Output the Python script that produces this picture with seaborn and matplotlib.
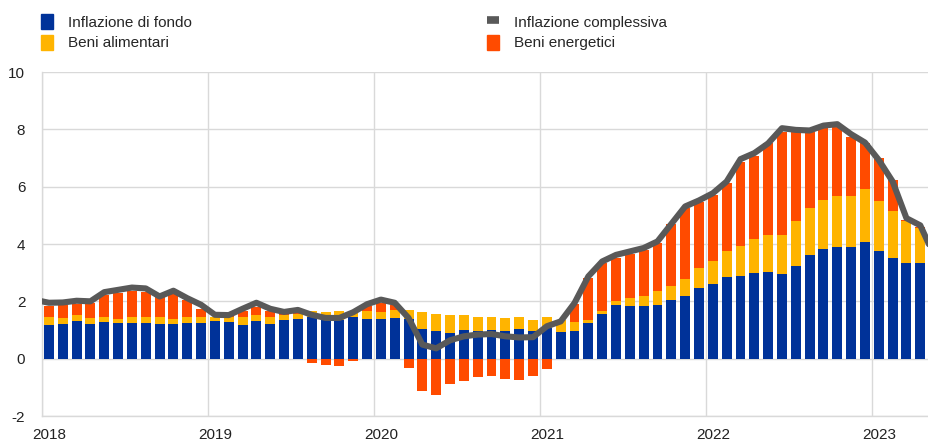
import numpy as np
import pandas as pd
import matplotlib
matplotlib.use('Agg')
import matplotlib.pyplot as plt
import seaborn as sns
from matplotlib.patches import Patch
from matplotlib.lines import Line2D

# monthly contributions, Jan 2018 - Apr 2023 (percentage points)
years = ['2018', '2019', '2020', '2021', '2022', '2023']

core = [1.18, 1.20, 1.30, 1.20, 1.27, 1.23, 1.25, 1.23, 1.22, 1.22, 1.25, 1.25,
        1.33, 1.28, 1.18, 1.33, 1.22, 1.36, 1.39, 1.44, 1.36, 1.36, 1.44, 1.40,
        1.39, 1.43, 1.39, 1.05, 0.96, 0.89, 1.01, 0.98, 1.01, 0.98, 1.03, 0.98,
        1.07, 0.92, 0.95, 1.24, 1.56, 1.86, 1.82, 1.82, 1.86, 2.06, 2.20, 2.48,
        2.62, 2.86, 2.89, 3.00, 3.03, 2.96, 3.25, 3.60, 3.83, 3.88, 3.90, 4.08,
        3.76, 3.52, 3.35, 3.35]

food = [0.29, 0.22, 0.21, 0.22, 0.17, 0.17, 0.19, 0.21, 0.22, 0.18, 0.19, 0.19,
        0.12, 0.16, 0.26, 0.20, 0.23, 0.17, 0.17, 0.21, 0.27, 0.29, 0.23, 0.25,
        0.23, 0.28, 0.32, 0.57, 0.60, 0.62, 0.50, 0.49, 0.43, 0.45, 0.41, 0.37,
        0.37, 0.44, 0.32, 0.12, 0.11, 0.16, 0.29, 0.35, 0.49, 0.46, 0.59, 0.70,
        0.77, 0.90, 1.05, 1.17, 1.29, 1.36, 1.56, 1.65, 1.71, 1.78, 1.78, 1.84,
        1.75, 1.64, 1.45, 1.20]

energy = [0.35, 0.44, 0.41, 0.52, 0.77, 0.89, 0.91, 0.88, 0.70, 0.85, 0.59, 0.29,
          0.02, 0.04, 0.21, 0.27, 0.23, 0.04, 0.05, -0.15, -0.23, -0.26, -0.08, 0.20,
          0.31, 0.16, -0.34, -1.14, -1.25, -0.88, -0.77, -0.64, -0.59, -0.70, -0.74, -0.59,
          -0.36, 0.0, 0.65, 1.45, 1.66, 1.49, 1.55, 1.63, 1.70, 2.18, 2.46, 2.30,
          2.32, 2.36, 2.93, 2.91, 3.19, 3.60, 3.09, 2.65, 2.50, 2.43, 2.07, 1.59,
          1.48, 1.08, 0.05, 0.05]

# headline, Dec 2017 - May 2023
headline = [2.05,
            1.95, 1.96, 2.02, 2.00, 2.32, 2.40, 2.48, 2.45, 2.17, 2.37, 2.11, 1.88,
            1.53, 1.52, 1.74, 1.95, 1.74, 1.63, 1.70, 1.53, 1.42, 1.42, 1.62, 1.90,
            2.06, 1.95, 1.42, 0.49, 0.36, 0.64, 0.78, 0.84, 0.86, 0.78, 0.74, 0.75,
            1.13, 1.30, 1.94, 2.87, 3.39, 3.62, 3.74, 3.86, 4.09, 4.70, 5.31, 5.52,
            5.77, 6.18, 6.96, 7.17, 7.51, 8.04, 7.98, 7.96, 8.13, 8.18, 7.83, 7.54,
            6.93, 6.18, 4.90, 4.65, 3.60]

labels = ['Inflazione di fondo', 'Beni alimentari', 'Inflazione complessiva', 'Beni energetici']

BLUE = '#003299'
YELLOW = '#FFB400'
ORANGE = '#FF4B00'
GREY = '#595959'
GRID = '#d9d9d9'

sns.set_style('whitegrid')
plt.rcParams['font.family'] = ['Liberation Sans', 'DejaVu Sans']
plt.rcParams['axes.unicode_minus'] = False

df = pd.DataFrame({'month': np.arange(len(core)), 'core': core,
                   'food': food, 'energy': energy})
df['energy_bottom'] = np.where(df['energy'] >= 0, df['core'] + df['food'], 0.0)
line_df = pd.DataFrame({'month': np.arange(-1, len(headline) - 1), 'headline': headline})

fig = plt.figure(figsize=(9.29, 4.41), dpi=100)
ax = fig.add_axes([42 / 929, 25 / 441, 887 / 929, 344 / 441])

w = 0.72
ax.bar(df['month'], df['core'], width=w, color=BLUE, lw=0, zorder=2)
ax.bar(df['month'], df['food'], bottom=df['core'], width=w, color=YELLOW, lw=0, zorder=2)
ax.bar(df['month'], df['energy'], bottom=df['energy_bottom'], width=w, color=ORANGE, lw=0, zorder=2)

sns.lineplot(data=line_df, x='month', y='headline', color=GREY, lw=4.4,
             ax=ax, zorder=3, legend=False)

ax.set_xlim(-0.5, 63.63)
ax.set_ylim(-2, 10)
ax.set_yticks(range(-2, 11, 2))
ax.set_xticks(np.arange(0, 61, 12))
ax.set_xticklabels(years)
ax.set_xticks(np.arange(-0.5, 64, 12), minor=True)
ax.grid(axis='x', which='major', visible=False)
ax.grid(axis='x', which='minor', color=GRID, lw=1)
ax.grid(axis='y', color=GRID, lw=1)
ax.set_axisbelow(True)
ax.set_xlabel('')
ax.set_ylabel('')
ax.tick_params(axis='both', which='both', length=0, labelsize=11, colors='#222222')
ax.tick_params(axis='y', pad=12)
ax.tick_params(axis='x', pad=8.5)
for s in ['top', 'right']:
    ax.spines[s].set_visible(False)
for s in ['left', 'bottom']:
    ax.spines[s].set_color(GRID)
    ax.spines[s].set_linewidth(1)

legend_kw = dict(loc='upper left', frameon=False, fontsize=11, handlelength=0.8,
                 handleheight=1.1, handletextpad=1.0, labelspacing=0.35,
                 borderpad=0, borderaxespad=0)
fig.legend(handles=[Patch(color=BLUE), Patch(color=YELLOW)], labels=labels[:2],
           bbox_to_anchor=(41 / 929, 1 - 14 / 441), **legend_kw)
fig.legend(handles=[Line2D([], [], color=GREY, lw=5.5, solid_capstyle='butt'), Patch(color=ORANGE)],
           labels=labels[2:], bbox_to_anchor=(487 / 929, 1 - 14 / 441), **legend_kw)

fig.savefig('out.png', dpi=100)
